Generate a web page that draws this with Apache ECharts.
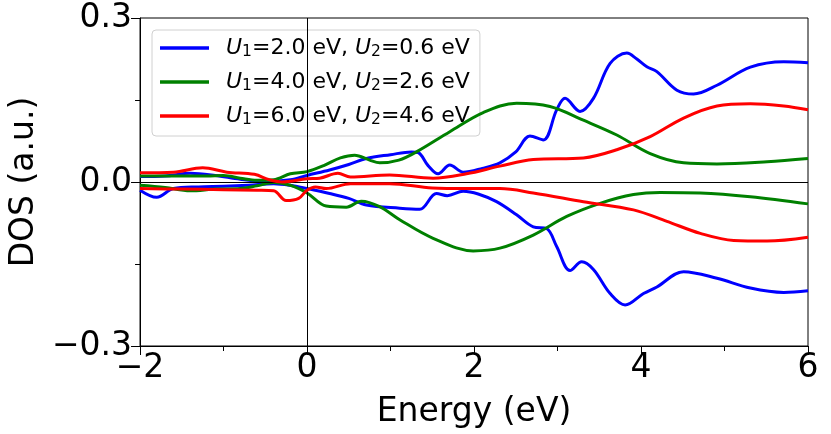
<!DOCTYPE html>
<html>
<head>
<meta charset="utf-8">
<script src="https://cdn.jsdelivr.net/npm/echarts@6/dist/echarts.min.js"></script>
<style>html,body{margin:0;padding:0;background:#fff}#c{width:831px;height:434px}</style>
</head>
<body>
<div id="c"></div>
<script>
const seriesNames = ['U1=2.0 eV, U2=0.6 eV', 'U1=4.0 eV, U2=2.6 eV', 'U1=6.0 eV, U2=4.6 eV'];
const legendRich = [
  '{i|U}{s|1}{n|=2.0 eV, }{i|U}{s|2}{n|=0.6 eV}',
  '{i|U}{s|1}{n|=4.0 eV, }{i|U}{s|2}{n|=2.6 eV}',
  '{i|U}{s|1}{n|=6.0 eV, }{i|U}{s|2}{n|=4.6 eV}'
];
const xTicks = [-2, 0, 2, 4, 6];
const yTicks = [-0.3, 0.0, 0.3];

const blueUp = [[-2,0.010],[-1.7,0.011],[-1.4,0.016],[-1.1,0.012],[-0.8,0.005],[-0.5,0.001],[-0.2,0.004],[0,0.012],[0.27,0.022],[0.5,0.032],[0.71,0.043],[1.0,0.050],[1.25,0.055],[1.33,0.054],[1.45,0.030],[1.57,0.015],[1.71,0.031],[1.87,0.018],[2.1,0.025],[2.31,0.035],[2.5,0.055],[2.67,0.084],[2.83,0.077],[2.99,0.132],[3.09,0.153],[3.27,0.129],[3.43,0.153],[3.63,0.217],[3.83,0.236],[3.95,0.225],[4.07,0.211],[4.19,0.202],[4.43,0.168],[4.63,0.161],[4.91,0.177],[5.31,0.210],[5.71,0.220],[6,0.218]];
const blueDown = [[-2,-0.015],[-1.8,-0.028],[-1.6,-0.012],[-1.3,-0.009],[-1.0,-0.008],[-0.7,-0.006],[-0.4,-0.003],[-0.2,-0.006],[0,-0.012],[0.27,-0.021],[0.5,-0.030],[0.71,-0.042],[1.11,-0.048],[1.35,-0.050],[1.55,-0.021],[1.68,-0.025],[1.87,-0.017],[2.05,-0.022],[2.27,-0.036],[2.51,-0.060],[2.71,-0.082],[2.87,-0.085],[2.99,-0.118],[3.15,-0.162],[3.29,-0.146],[3.43,-0.160],[3.63,-0.204],[3.81,-0.225],[4.03,-0.204],[4.19,-0.192],[4.51,-0.164],[4.91,-0.176],[5.31,-0.194],[5.71,-0.202],[6,-0.199]];
const greenUp = [[-2,0.011],[-1.6,0.011],[-1.2,0.011],[-1.0,0.012],[-0.8,0.007],[-0.6,0.003],[-0.4,0.004],[-0.2,0.015],[0,0.019],[0.2,0.030],[0.4,0.044],[0.57,0.049],[0.75,0.040],[0.87,0.035],[1.1,0.040],[1.31,0.055],[1.71,0.092],[2.11,0.127],[2.51,0.144],[2.91,0.138],[3.31,0.113],[3.71,0.086],[4.11,0.052],[4.51,0.035],[4.91,0.033],[5.51,0.037],[6,0.043]];
const greenDown = [[-2,-0.006],[-1.7,-0.010],[-1.4,-0.016],[-1.1,-0.013],[-0.8,-0.012],[-0.6,-0.007],[-0.4,-0.001],[-0.2,-0.006],[0,-0.020],[0.23,-0.044],[0.47,-0.046],[0.65,-0.035],[0.87,-0.045],[1.11,-0.069],[1.51,-0.103],[1.99,-0.126],[2.31,-0.121],[2.71,-0.097],[3.11,-0.063],[3.51,-0.039],[3.91,-0.023],[4.23,-0.019],[4.71,-0.020],[5.31,-0.027],[6,-0.040]];
const redUp = [[-2,0.017],[-1.6,0.018],[-1.25,0.026],[-0.96,0.018],[-0.63,0.014],[-0.45,0.004],[-0.3,0.000],[0,0.006],[0.15,0.007],[0.37,0.016],[0.52,0.009],[0.99,0.013],[1.51,0.007],[1.91,0.015],[2.31,0.029],[2.71,0.041],[3.31,0.044],[3.71,0.059],[4.11,0.083],[4.51,0.117],[4.91,0.139],[5.31,0.143],[5.71,0.139],[6,0.132]];
const redDown = [[-2,-0.012],[-1.5,-0.013],[-1.0,-0.014],[-0.6,-0.015],[-0.4,-0.016],[-0.25,-0.034],[-0.1,-0.030],[0,-0.015],[0.1,-0.009],[0.23,-0.012],[0.52,-0.003],[0.99,-0.003],[1.5,-0.011],[1.91,-0.012],[2.31,-0.012],[2.71,-0.020],[3.31,-0.036],[3.91,-0.051],[4.31,-0.072],[4.71,-0.094],[5.11,-0.107],[5.51,-0.108],[6,-0.101]];

const colors = ['#0000ff', '#008000', '#ff0000'];
const groups = [[blueUp, blueDown], [greenUp, greenDown], [redUp, redDown]];
const FONT = 'DejaVu Sans';
const minus = v => (v < 0 ? '\u2212' : '') + Math.abs(v);

const series = [];
groups.forEach((g, i) => {
  g.forEach(d => {
    series.push({
      name: seriesNames[i], type: 'line', data: d, smooth: 0.35,
      showSymbol: false, symbol: 'none',
      lineStyle: { color: colors[i], width: 3 }, itemStyle: { color: colors[i] },
      z: 3 + i
    });
  });
});
series.unshift({
  type: 'line', data: [], silent: true, z: 2,
  markLine: {
    silent: true, symbol: ['none', 'none'], animation: false,
    label: { show: false },
    lineStyle: { color: '#000', width: 1, type: 'solid' },
    data: [{ xAxis: 0 }, { yAxis: 0 }]
  }
});

const chart = echarts.init(document.getElementById('c'));
chart.setOption({
  animation: false,
  backgroundColor: '#fff',
  grid: { left: 140, right: 23, top: 18, bottom: 88, show: true, borderColor: '#000', borderWidth: 1, backgroundColor: 'transparent' },
  legend: {
    data: seriesNames, orient: 'vertical', left: 152, top: 30,
    icon: 'rect', itemWidth: 49, itemHeight: 3.5, itemGap: 10,
    padding: [6, 10, 8, 8],
    backgroundColor: 'rgba(255,255,255,0.8)', borderColor: '#d0d0d0', borderWidth: 1, borderRadius: 4,
    formatter: name => legendRich[seriesNames.indexOf(name)],
    textStyle: {
      fontFamily: FONT, fontSize: 22, color: '#000', padding: [0, 0, 0, 12], lineHeight: 24,
      rich: {
        i: { fontFamily: FONT, fontSize: 22, fontStyle: 'italic', color: '#000', lineHeight: 24 },
        s: { fontFamily: FONT, fontSize: 15.5, color: '#000', lineHeight: 24, verticalAlign: 'bottom', padding: [8, 0, 0, 0] },
        n: { fontFamily: FONT, fontSize: 22, color: '#000', lineHeight: 24 }
      }
    }
  },
  xAxis: {
    type: 'value', min: xTicks[0], max: xTicks[xTicks.length - 1], interval: 2,
    name: 'Energy (eV)', nameLocation: 'middle', nameGap: 50,
    nameTextStyle: { fontFamily: FONT, fontSize: 33, color: '#000' },
    axisLine: { show: true, onZero: false, lineStyle: { color: '#000', width: 1 } },
    axisTick: { show: true, inside: false, length: 9, lineStyle: { color: '#000', width: 1 } },
    minorTick: { show: true, splitNumber: 2, length: 5, lineStyle: { color: '#000', width: 1 } },
    splitLine: { show: false },
    axisLabel: { fontFamily: FONT, fontSize: 33, color: '#000', margin: 6, formatter: v => minus(v) }
  },
  yAxis: {
    type: 'value', min: yTicks[0], max: yTicks[yTicks.length - 1], interval: 0.3,
    name: 'DOS (a.u.)', nameLocation: 'middle', nameGap: 94,
    nameTextStyle: { fontFamily: FONT, fontSize: 33, color: '#000' },
    axisLine: { show: true, onZero: false, lineStyle: { color: '#000', width: 1 } },
    axisTick: { show: true, inside: false, length: 9, lineStyle: { color: '#000', width: 1 } },
    minorTick: { show: true, splitNumber: 2, length: 5, lineStyle: { color: '#000', width: 1 } },
    splitLine: { show: false },
    axisLabel: { fontFamily: FONT, fontSize: 33, color: '#000', margin: 8,
      formatter: v => (v < -1e-9 ? '\u2212' : '') + Math.abs(v).toFixed(1) }
  },
  series: series
});
</script>
</body>
</html>
